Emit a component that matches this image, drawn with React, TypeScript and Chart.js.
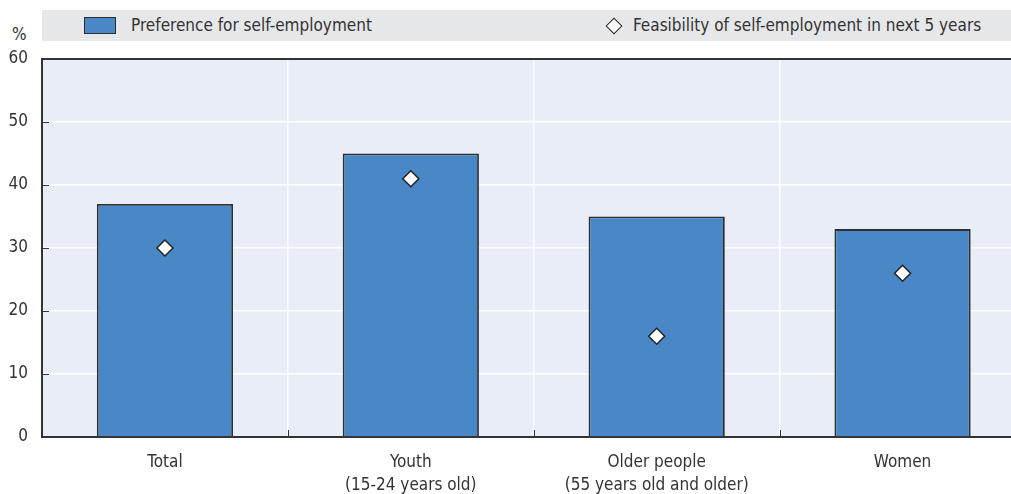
import React, { useEffect, useRef } from "react";
import { Chart, registerables } from "chart.js";

Chart.register(...registerables);

const categories: (string | string[])[] = [
  "Total",
  ["Youth", "(15-24 years old)"],
  ["Older people", "(55 years old and older)"],
  "Women",
];
const preferenceValues = [37, 45, 35, 33];
const feasibilityValues = [30, 41, 16, 26];
const yTicks = [0, 10, 20, 30, 40, 50, 60];
const seriesNames = ["Preference for self-employment", "Feasibility of self-employment in next 5 years"];

const FONT = "'Liberation Sans Narrow', 'Arial Narrow', 'DejaVu Sans Condensed', sans-serif";
const TEXT = "#333333";
const AXIS = "#333333";

const innerTicks = {
  id: "innerTicks",
  afterDraw(chart: any) {
    const { ctx, chartArea, scales } = chart;
    const y = scales.y;
    const x = scales.x;
    ctx.save();
    ctx.strokeStyle = AXIS;
    ctx.lineWidth = 1;
    ctx.beginPath();
    for (const v of yTicks) {
      if (v === 0 || v === 60) continue;
      const py = Math.round(y.getPixelForValue(v)) + 0.5;
      ctx.moveTo(chartArea.left, py);
      ctx.lineTo(chartArea.left + 7, py);
    }
    for (let i = 1; i < categories.length; i++) {
      const px = Math.round((x.getPixelForValue(i - 1) + x.getPixelForValue(i)) / 2) + 0.5;
      ctx.moveTo(px, chartArea.bottom);
      ctx.lineTo(px, chartArea.bottom - 7);
    }
    ctx.stroke();
    ctx.lineWidth = 2;
    ctx.beginPath();
    ctx.moveTo(chartArea.left, chartArea.top);
    ctx.lineTo(chartArea.right, chartArea.top);
    ctx.stroke();
    ctx.restore();
  },
};

const bgPlugin = {
  id: "plotBg",
  beforeDraw(chart: any) {
    const { ctx, chartArea } = chart;
    ctx.save();
    ctx.fillStyle = "#e9edf7";
    ctx.fillRect(chartArea.left, chartArea.top, chartArea.right - chartArea.left, chartArea.bottom - chartArea.top);
    ctx.restore();
  },
};

export default function App() {
  const ref = useRef<HTMLCanvasElement>(null);
  useEffect(() => {
    if (!ref.current) return;
    const chart = new Chart(ref.current, {
      type: "bar",
      data: {
        labels: categories as any,
        datasets: [
          {
            type: "line",
            label: seriesNames[1],
            data: feasibilityValues,
            showLine: false,
            pointStyle: "rectRot",
            pointRadius: 8,
            pointBackgroundColor: "#ffffff",
            pointBorderColor: "#222222",
            pointBorderWidth: 1.5,
            order: 0,
          } as any,
          {
            type: "bar",
            label: seriesNames[0],
            data: preferenceValues,
            backgroundColor: "#4a87c6",
            borderColor: "#2e2e2e",
            borderWidth: 1.8,
            categoryPercentage: 1,
            barPercentage: 0.554,
            order: 1,
          },
        ],
      },
      options: {
        animation: false,
        responsive: false,
        maintainAspectRatio: false,
        layout: { padding: { top: 59, left: 0, right: 6, bottom: 0 } },
        plugins: { legend: { display: false }, tooltip: { enabled: false } },
        scales: {
          x: {
            offset: true,
            grid: { offset: true, color: "#ffffff", lineWidth: 1.5, drawTicks: false },
            border: { display: true, color: AXIS, width: 2 },
            ticks: { color: TEXT, font: { family: FONT, size: 17, lineHeight: 1.3 }, padding: 15, maxRotation: 0, autoSkip: false },
            afterFit(scale: any) { scale.height = 57; },
          },
          y: {
            min: 0,
            max: 60,
            ticks: { stepSize: 10, color: TEXT, font: { family: FONT, size: 17 }, padding: 14 },
            grid: { color: "#ffffff", lineWidth: 1.5, drawTicks: false },
            border: { display: true, color: AXIS, width: 2 },
            afterFit(scale: any) { scale.width = 42; },
          },
        },
      },
      plugins: [bgPlugin, innerTicks],
    });
    return () => chart.destroy();
  }, []);

  const legendText: React.CSSProperties = {
    position: "absolute",
    top: 10,
    height: 31,
    lineHeight: "31px",
    fontFamily: FONT,
    fontSize: 17,
    color: TEXT,
    whiteSpace: "nowrap",
  };

  return (
    <div style={{ position: "fixed", left: 0, top: 0, width: 1011, height: 494, overflow: "hidden", background: "#fff" }}>
      <div style={{ position: "absolute", left: 42, top: 10, width: 1000, height: 31, background: "#e6e7e9" }} />
      <div style={{ position: "absolute", left: 84, top: 17, width: 30, height: 15, background: "#4a87c6", border: "1px solid #2e2e2e" }} />
      <div style={{ ...legendText, left: 131 }}>{seriesNames[0]}</div>
      <div
        style={{
          position: "absolute",
          left: 608,
          top: 20,
          width: 10,
          height: 10,
          background: "#fff",
          border: "1.5px solid #222",
          transform: "rotate(45deg)",
        }}
      />
      <div style={{ ...legendText, left: 633 }}>{seriesNames[1]}</div>
      <div style={{ position: "absolute", left: 12, top: 24, fontFamily: FONT, fontSize: 17, color: TEXT, lineHeight: "20px" }}>%</div>
      <canvas ref={ref} width={1035} height={494} style={{ position: "absolute", left: 0, top: 0, width: 1035, height: 494 }} />
    </div>
  );
}
